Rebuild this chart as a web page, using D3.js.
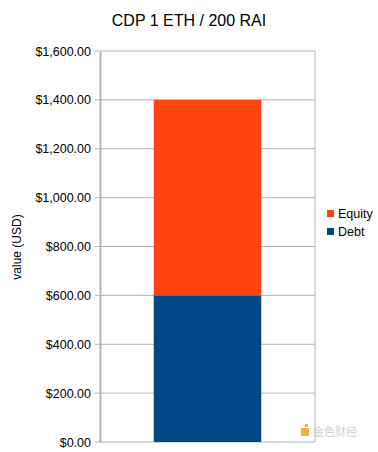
<!DOCTYPE html>
<html>
<head>
<meta charset="utf-8">
<script src="https://cdn.jsdelivr.net/npm/d3@7"></script>
<style>
  body { margin: 0; background: #fff; }
  svg { font-family: "Liberation Sans", Arial, sans-serif; }
</style>
</head>
<body>
<svg id="chart"></svg>
<script>
const title = "CDP 1 ETH / 200 RAI";
const categories = [""];
const seriesNames = ["Debt", "Equity"];
const debtValues = [600];
const equityValues = [800];
const seriesColors = ["#004586", "#ff420e"];
const yTicks = [0, 200, 400, 600, 800, 1000, 1200, 1400, 1600];

const width = 378, height = 452;
const margin = { top: 51, right: 63, bottom: 10, left: 100 };
const innerW = width - margin.left - margin.right;
const innerH = height - margin.top - margin.bottom;

const svg = d3.select("#chart").attr("width", width).attr("height", height);

svg.append("text")
    .attr("x", 189).attr("y", 26)
    .attr("text-anchor", "middle")
    .attr("font-size", "16px")
    .text(title);

const chart = svg.append("g").attr("transform", `translate(${margin.left},${margin.top})`);

const x = d3.scaleBand().domain(categories).range([0, innerW]).paddingInner(0).paddingOuter(0.5);
const y = d3.scaleLinear().domain([0, 1600]).range([innerH, 0]);

// gridlines
chart.selectAll(".grid")
    .data(yTicks)
    .enter().append("line")
    .attr("x1", -5).attr("x2", innerW)
    .attr("y1", d => y(d)).attr("y2", d => y(d))
    .attr("stroke", "#b3b3b3").attr("stroke-width", 1);

// right border
chart.append("line")
    .attr("x1", innerW).attr("x2", innerW)
    .attr("y1", 0).attr("y2", innerH)
    .attr("stroke", "#b3b3b3");

const stackData = categories.map((c, i) => ({ cat: c, Debt: debtValues[i], Equity: equityValues[i] }));
const stacked = d3.stack().keys(seriesNames)(stackData);

stacked.forEach((layer, li) => {
    chart.selectAll(".bar" + li)
        .data(layer)
        .enter().append("rect")
        .attr("x", d => x(d.data.cat))
        .attr("width", x.bandwidth())
        .attr("y", d => y(d[1]))
        .attr("height", d => y(d[0]) - y(d[1]))
        .attr("fill", seriesColors[li]);
});

// y axis
const yAxis = chart.append("g")
    .call(d3.axisLeft(y).tickValues(yTicks).tickSize(0).tickPadding(9)
        .tickFormat(d => "$" + d3.format(",.2f")(d)));
yAxis.select(".domain").attr("stroke", "#b3b3b3").attr("stroke-width", 2);
yAxis.selectAll("text").attr("font-size", "12.5px").attr("fill", "#000")
    .attr("font-family", "Liberation Sans, Arial, sans-serif");

svg.append("text")
    .attr("transform", "translate(21,247) rotate(-90)")
    .attr("text-anchor", "middle")
    .attr("font-size", "12px")
    .text("value (USD)");

// legend
const legendItems = ["Equity", "Debt"];
const legend = svg.append("g").attr("transform", "translate(327,210)");
legendItems.forEach((name, i) => {
    const g = legend.append("g").attr("transform", `translate(0,${i * 18})`);
    g.append("rect").attr("width", 7).attr("height", 7)
        .attr("fill", seriesColors[seriesNames.indexOf(name)]);
    g.append("text").attr("x", 11).attr("y", 7.5)
        .attr("font-size", "12.5px").text(name);
});

// watermark
const wm = svg.append("g").attr("transform", "translate(301,424)").attr("opacity", 0.85);
wm.append("rect").attr("x", 0).attr("y", 4).attr("width", 8).attr("height", 8).attr("fill", "#e8a922");
wm.append("rect").attr("x", 4).attr("y", 0).attr("width", 3).attr("height", 3).attr("fill", "#e8a922");
wm.append("text").attr("x", 12).attr("y", 12)
    .attr("font-family", "Noto Sans CJK SC").attr("font-size", "11px")
    .attr("fill", "#c8c8c8").text("金色财经");
</script>
</body>
</html>
